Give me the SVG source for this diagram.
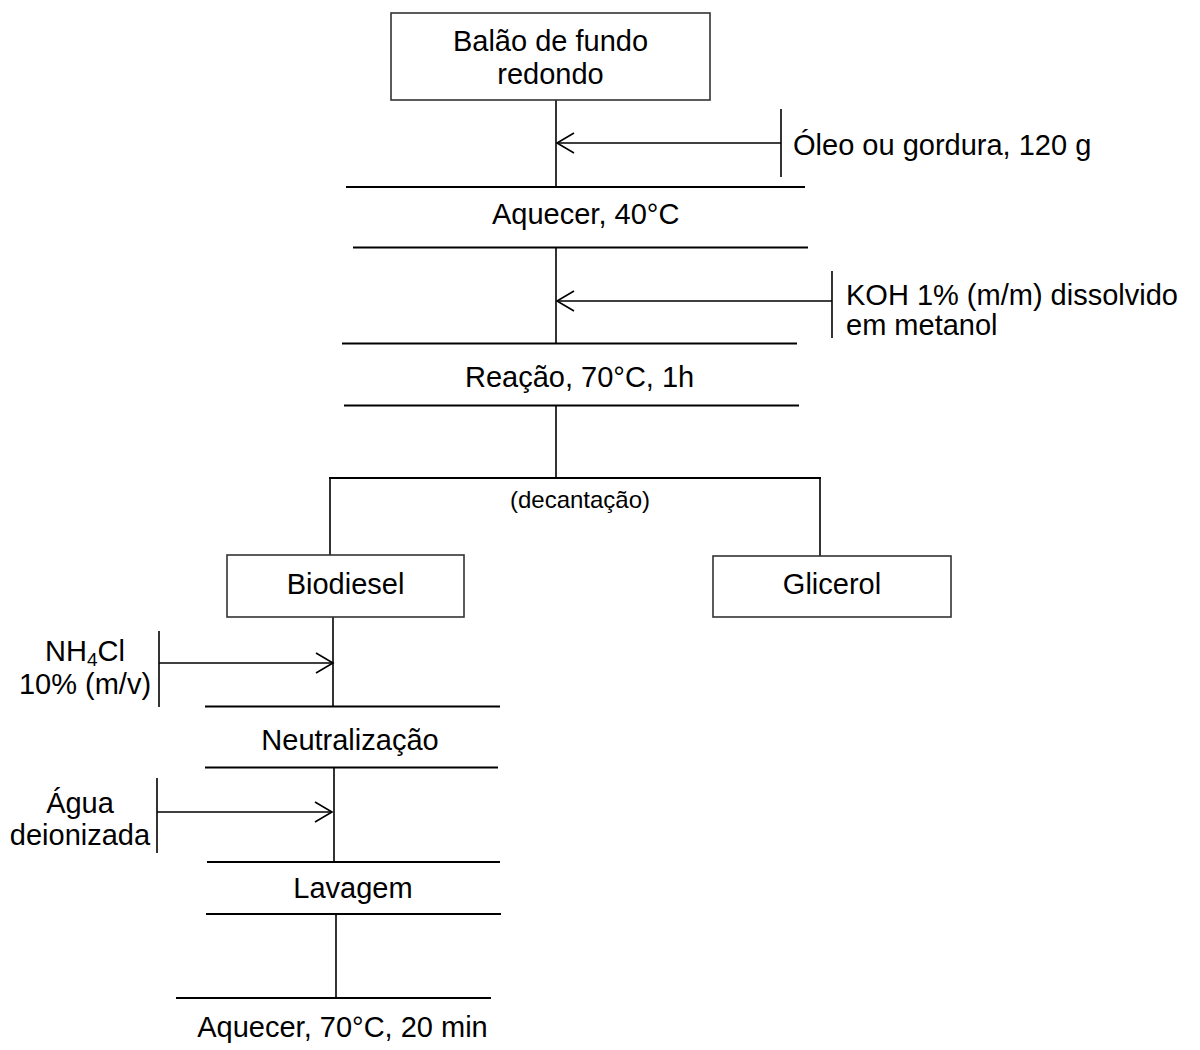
<svg xmlns="http://www.w3.org/2000/svg" width="1200" height="1050" viewBox="0 0 1200 1050">
<defs>
<style>
.ln{stroke:#000;stroke-width:2;fill:none}
.vl{stroke:#000;stroke-width:1.6;fill:none}
.box{fill:#fff;stroke:#333;stroke-width:1.6}
.t{font-family:"Liberation Sans",Arial,sans-serif;font-size:29px;fill:#000}
.m{text-anchor:middle}
</style>
<marker id="open" markerUnits="userSpaceOnUse" markerWidth="24" markerHeight="24" viewBox="-20 -12 22 24" refX="0" refY="0" orient="auto">
<path d="M-17,-10 L0,0 L-17,10" fill="none" stroke="#000" stroke-width="1.6"/>
</marker>
</defs>
<rect width="1200" height="1050" fill="#fff"/>

<g id="connectors">
<line class="vl" x1="556" y1="100" x2="556" y2="187"/>
<line class="vl" x1="781" y1="143" x2="557" y2="143" marker-end="url(#open)"/>
<line class="vl" x1="556" y1="248" x2="556" y2="343"/>
<line class="vl" x1="832" y1="301" x2="557" y2="301" marker-end="url(#open)"/>
<line class="vl" x1="556" y1="406" x2="556" y2="478"/>
<line class="vl" x1="330" y1="478" x2="330" y2="555"/>
<line class="vl" x1="820" y1="478" x2="820" y2="556"/>
<line class="vl" x1="333" y1="617" x2="333" y2="706"/>
<line class="vl" x1="159" y1="663" x2="333" y2="663" marker-end="url(#open)"/>
<line class="vl" x1="334" y1="768" x2="334" y2="861"/>
<line class="vl" x1="157" y1="812" x2="332" y2="812" marker-end="url(#open)"/>
<line class="vl" x1="336" y1="914" x2="336" y2="998"/>
</g>

<g id="n_balao">
<rect class="box" x="391" y="13" width="319" height="87"/>
<text class="t m" x="550.5" y="51">Balão de fundo</text>
<text class="t m" x="550.5" y="84">redondo</text>
</g>

<g id="n_oleo">
<line class="vl" x1="781" y1="109" x2="781" y2="177"/>
<text class="t" x="793" y="155">Óleo ou gordura, 120 g</text>
</g>

<g id="n_aquecer40">
<line class="ln" x1="346" y1="187" x2="805" y2="187"/>
<text class="t" x="492" y="224">Aquecer, 40°C</text>
<line class="ln" x1="353" y1="247.5" x2="808" y2="247.5"/>
</g>

<g id="n_koh">
<line class="vl" x1="832" y1="271" x2="832" y2="338"/>
<text class="t" x="846" y="305">KOH 1% (m/m) dissolvido</text>
<text class="t" x="846" y="335">em metanol</text>
</g>

<g id="n_reacao">
<line class="ln" x1="342" y1="343.5" x2="797" y2="343.5"/>
<text class="t" x="465" y="387">Reação, 70°C, 1h</text>
<line class="ln" x1="344" y1="405.5" x2="799" y2="405.5"/>
</g>

<g id="n_decantacao">
<line class="ln" x1="329" y1="478" x2="821" y2="478"/>
<text class="t m" x="580" y="508" style="font-size:24px">(decantação)</text>
</g>

<g id="n_biodiesel">
<rect class="box" x="227" y="555" width="237" height="62"/>
<text class="t m" x="345.5" y="594">Biodiesel</text>
</g>

<g id="n_glicerol">
<rect class="box" x="713" y="556" width="238" height="61"/>
<text class="t m" x="832" y="594">Glicerol</text>
</g>

<g id="n_nh4cl">
<line class="vl" x1="159" y1="631" x2="159" y2="707"/>
<text class="t m" x="85" y="661">NH<tspan style="font-size:19px" dy="5">4</tspan><tspan dy="-5">Cl</tspan></text>
<text class="t m" x="85" y="694">10% (m/v)</text>
</g>

<g id="n_neutralizacao">
<line class="ln" x1="205" y1="706.5" x2="500" y2="706.5"/>
<text class="t m" x="350" y="750">Neutralização</text>
<line class="ln" x1="205" y1="767.5" x2="498" y2="767.5"/>
</g>

<g id="n_agua">
<line class="vl" x1="157" y1="778" x2="157" y2="853"/>
<text class="t m" x="80" y="813">Água</text>
<text class="t m" x="80" y="845">deionizada</text>
</g>

<g id="n_lavagem">
<line class="ln" x1="207" y1="862" x2="500" y2="862"/>
<text class="t m" x="353" y="898">Lavagem</text>
<line class="ln" x1="206" y1="914" x2="501" y2="914"/>
</g>

<g id="n_aquecer70">
<line class="ln" x1="176" y1="998" x2="491" y2="998"/>
<text class="t m" x="342.5" y="1037">Aquecer, 70°C, 20 min</text>
</g>
</svg>
